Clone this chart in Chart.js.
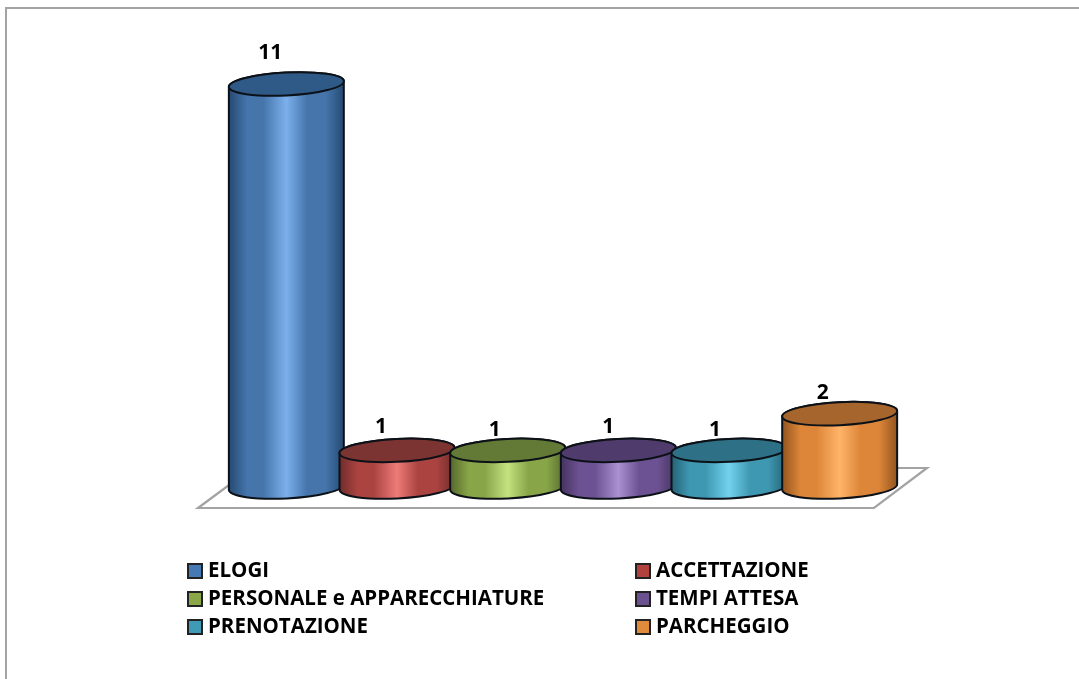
<!DOCTYPE html>
<html>
<head>
<meta charset="utf-8">
<style>
  html, body { margin: 0; background: #fff; overflow: hidden; }
  #frame { position: absolute; left: 5px; top: 7px; right: 0; bottom: 0; border-top: 2px solid #a3a3a3; border-left: 2px solid #a3a3a3; }
  canvas { position: absolute; left: 0; top: 0; }
</style>
<script src="https://cdn.jsdelivr.net/npm/chart.js@4"></script>
</head>
<body>
<div id="frame"></div>
<canvas id="chart" width="1079" height="679"></canvas>
<script>
const labels = ['ELOGI', 'ACCETTAZIONE', 'PERSONALE e APPARECCHIATURE', 'TEMPI ATTESA', 'PRENOTAZIONE', 'PARCHEGGIO'];
const values = [11, 1, 1, 1, 1, 2];

// side colours of each cylinder: edge, body, highlight, plus the darker lid
const edgeColors = ['#264a72', '#6f2c2a', '#55682c', '#45335f', '#246276', '#92551f'];
const bodyColors = ['#4575ab', '#ab4441', '#88a548', '#6c5292', '#3f98b2', '#dd8639'];
const lightColors = ['#7cb0ec', '#ee7b78', '#c4e27f', '#ab90d2', '#72d2ee', '#ffb468'];
const lidColors = ['#2f5a88', '#7b3431', '#627a35', '#4f3b6c', '#2e7086', '#a5652c'];
const legendColors = ['#4579b3', '#b0413e', '#8aa748', '#6b5190', '#3f9bb5', '#e08a3c'];

// value labels sit a little left of the bar centre
const labelDx = [-16, -16, -13, -10, -14, -17];
const labelDy = [-31, -23, -20, -23, -20, -21];

const LEGEND_FONT = 'bold 20.5px "Open Sans"';
const VALUE_FONT = 'bold 21px "Open Sans"';
const TILT = -0.05;
const RY = 11.5;

const cylinders = {
  id: 'cylinders',
  beforeDatasetsDraw(chart) {
    // floor the bars stand on
    const { ctx, chartArea: a, scales: { y } } = chart;
    const y0 = y.getPixelForValue(0);
    ctx.save();
    ctx.strokeStyle = '#a3a3a3';
    ctx.lineWidth = 2.2;
    ctx.beginPath();
    ctx.moveTo(a.left + 21, y0 - 19);
    ctx.lineTo(a.left - 33, y0 + 21);
    ctx.lineTo(a.right - 21, y0 + 21);
    ctx.lineTo(a.right + 32, y0 - 19);
    ctx.closePath();
    ctx.stroke();
    ctx.restore();
  },
  afterDatasetsDraw(chart) {
    const { ctx, scales: { y } } = chart;
    const y0 = y.getPixelForValue(0);
    chart.getDatasetMeta(0).data.forEach((bar, i) => {
      const rx = bar.width / 2;
      const left = bar.x - rx;
      const g = ctx.createLinearGradient(left, 0, left + bar.width, 0);
      g.addColorStop(0, edgeColors[i]);
      g.addColorStop(0.16, bodyColors[i]);
      g.addColorStop(0.3, bodyColors[i]);
      g.addColorStop(0.5, lightColors[i]);
      g.addColorStop(0.68, bodyColors[i]);
      g.addColorStop(0.84, bodyColors[i]);
      g.addColorStop(1, edgeColors[i]);

      ctx.save();
      ctx.lineWidth = 2;
      ctx.strokeStyle = '#0c1118';
      ctx.fillStyle = g;
      ctx.beginPath();
      ctx.ellipse(bar.x, y0, rx, RY, TILT, 0, Math.PI);
      ctx.ellipse(bar.x, bar.y, rx, RY, TILT, Math.PI, Math.PI * 2);
      ctx.closePath();
      ctx.fill();
      ctx.stroke();

      ctx.fillStyle = lidColors[i];
      ctx.beginPath();
      ctx.ellipse(bar.x, bar.y, rx, RY, TILT, 0, Math.PI * 2);
      ctx.fill();
      ctx.stroke();

      ctx.fillStyle = '#000';
      ctx.font = VALUE_FONT;
      ctx.textAlign = 'center';
      ctx.textBaseline = 'middle';
      ctx.fillText(String(values[i]), bar.x + labelDx[i], bar.y + labelDy[i]);
      ctx.restore();
    });
  },
  afterDraw(chart) {
    // two column legend, filled row by row
    const { ctx } = chart;
    ctx.save();
    ctx.font = LEGEND_FONT;
    ctx.textBaseline = 'middle';
    ctx.textAlign = 'left';
    labels.forEach((label, i) => {
      const col = i % 2, row = Math.floor(i / 2);
      const sx = col === 0 ? 188 : 636;
      const sy = 564 + row * 28;
      ctx.fillStyle = legendColors[i];
      ctx.strokeStyle = '#222';
      ctx.lineWidth = 2;
      ctx.fillRect(sx, sy, 14, 14);
      ctx.strokeRect(sx, sy, 14, 14);
      ctx.fillStyle = '#000';
      ctx.fillText(label, sx + 20, sy + 7);
    });
    ctx.restore();
  }
};

new Chart(document.getElementById('chart'), {
  type: 'bar',
  data: {
    labels: labels,
    datasets: [{
      data: values,
      backgroundColor: 'rgba(0,0,0,0)',
      barPercentage: 1.04,
      categoryPercentage: 1
    }]
  },
  options: {
    responsive: false,
    animation: false,
    layout: { padding: { left: 231, right: 184, top: 84, bottom: 192 } },
    plugins: { legend: { display: false }, tooltip: { enabled: false } },
    scales: {
      x: { display: false },
      y: { display: false, min: 0, max: 11 }
    }
  },
  plugins: [cylinders]
});
</script>
</body>
</html>
